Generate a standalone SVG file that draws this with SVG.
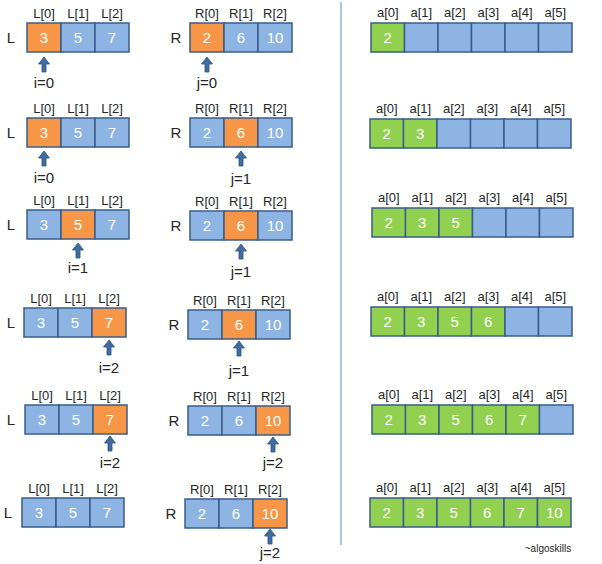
<svg xmlns="http://www.w3.org/2000/svg" width="602" height="564" viewBox="0 0 602 564">
<style>
text{font-family:"Liberation Sans",Arial,sans-serif;text-anchor:middle}
.b{fill:#8EB4E3;stroke:#385D8A;stroke-width:1.5}
.o{fill:#F79646;stroke:#385D8A;stroke-width:1.5}
.g{fill:#92D050;stroke:#385D8A;stroke-width:1.5}
.v{fill:#ffffff;font-size:15px}
.ix{fill:#262626;font-size:13px}
.nm{fill:#262626;font-size:15px}
.pt{fill:#262626;font-size:15px}
.arr{fill:#3F6DA0;stroke:#2C5482;stroke-width:0.8}
</style>
<defs>
<path id="arrow" d="M0,0 L5.5,7 L2,7 L2,15 L-2,15 L-2,7 L-5.5,7 Z"/>
</defs>
<rect width="602" height="564" fill="#ffffff"/>
<line x1="341" y1="2" x2="341" y2="545" stroke="#A9C5E8" stroke-width="2"/>

<!-- Row 1 -->
<g id="r1-L" transform="translate(27,23)">
<text class="nm" x="-16" y="20">L</text>
<rect class="o" x="0" y="0" width="34" height="29"/><rect class="b" x="34" y="0" width="34" height="29"/><rect class="b" x="68" y="0" width="34" height="29"/>
<text class="v" x="17" y="20">3</text><text class="v" x="51" y="20">5</text><text class="v" x="85" y="20">7</text>
<text class="ix" x="17" y="-5">L[0]</text><text class="ix" x="51" y="-5">L[1]</text><text class="ix" x="85" y="-5">L[2]</text>
</g>
<g id="r1-R" transform="translate(190,23)">
<text class="nm" x="-14" y="20">R</text>
<rect class="o" x="0" y="0" width="34" height="29"/><rect class="b" x="34" y="0" width="34" height="29"/><rect class="b" x="68" y="0" width="34" height="29"/>
<text class="v" x="17" y="20">2</text><text class="v" x="51" y="20">6</text><text class="v" x="85" y="20">10</text>
<text class="ix" x="17" y="-5">R[0]</text><text class="ix" x="51" y="-5">R[1]</text><text class="ix" x="85" y="-5">R[2]</text>
</g>
<g id="r1-a" transform="translate(371,23)">
<rect class="g" x="0" y="0" width="33.5" height="29"/><rect class="b" x="33.5" y="0" width="33.5" height="29"/><rect class="b" x="67" y="0" width="33.5" height="29"/><rect class="b" x="100.5" y="0" width="33.5" height="29"/><rect class="b" x="134" y="0" width="33.5" height="29"/><rect class="b" x="167.5" y="0" width="33.5" height="29"/>
<text class="v" x="16.75" y="20">2</text>
<text class="ix" x="16.75" y="-6">a[0]</text><text class="ix" x="50.25" y="-6">a[1]</text><text class="ix" x="83.75" y="-6">a[2]</text><text class="ix" x="117.25" y="-6">a[3]</text><text class="ix" x="150.75" y="-6">a[4]</text><text class="ix" x="184.25" y="-6">a[5]</text>
</g>

<!-- Row 2 -->
<g id="r2-L" transform="translate(27,118)">
<text class="nm" x="-16" y="20">L</text>
<rect class="o" x="0" y="0" width="34" height="29"/><rect class="b" x="34" y="0" width="34" height="29"/><rect class="b" x="68" y="0" width="34" height="29"/>
<text class="v" x="17" y="20">3</text><text class="v" x="51" y="20">5</text><text class="v" x="85" y="20">7</text>
<text class="ix" x="17" y="-5">L[0]</text><text class="ix" x="51" y="-5">L[1]</text><text class="ix" x="85" y="-5">L[2]</text>
</g>
<g id="r2-R" transform="translate(190,118)">
<text class="nm" x="-14" y="20">R</text>
<rect class="b" x="0" y="0" width="34" height="29"/><rect class="o" x="34" y="0" width="34" height="29"/><rect class="b" x="68" y="0" width="34" height="29"/>
<text class="v" x="17" y="20">2</text><text class="v" x="51" y="20">6</text><text class="v" x="85" y="20">10</text>
<text class="ix" x="17" y="-5">R[0]</text><text class="ix" x="51" y="-5">R[1]</text><text class="ix" x="85" y="-5">R[2]</text>
</g>
<g id="r2-a" transform="translate(370,119)">
<rect class="g" x="0" y="0" width="33.5" height="29"/><rect class="g" x="33.5" y="0" width="33.5" height="29"/><rect class="b" x="67" y="0" width="33.5" height="29"/><rect class="b" x="100.5" y="0" width="33.5" height="29"/><rect class="b" x="134" y="0" width="33.5" height="29"/><rect class="b" x="167.5" y="0" width="33.5" height="29"/>
<text class="v" x="16.75" y="20">2</text><text class="v" x="50.25" y="20">3</text>
<text class="ix" x="16.75" y="-6">a[0]</text><text class="ix" x="50.25" y="-6">a[1]</text><text class="ix" x="83.75" y="-6">a[2]</text><text class="ix" x="117.25" y="-6">a[3]</text><text class="ix" x="150.75" y="-6">a[4]</text><text class="ix" x="184.25" y="-6">a[5]</text>
</g>

<!-- Row 3 -->
<g id="r3-L" transform="translate(27,210)">
<text class="nm" x="-16" y="20">L</text>
<rect class="b" x="0" y="0" width="34" height="29"/><rect class="o" x="34" y="0" width="34" height="29"/><rect class="b" x="68" y="0" width="34" height="29"/>
<text class="v" x="17" y="20">3</text><text class="v" x="51" y="20">5</text><text class="v" x="85" y="20">7</text>
<text class="ix" x="17" y="-5">L[0]</text><text class="ix" x="51" y="-5">L[1]</text><text class="ix" x="85" y="-5">L[2]</text>
</g>
<g id="r3-R" transform="translate(190,211)">
<text class="nm" x="-14" y="20">R</text>
<rect class="b" x="0" y="0" width="34" height="29"/><rect class="o" x="34" y="0" width="34" height="29"/><rect class="b" x="68" y="0" width="34" height="29"/>
<text class="v" x="17" y="20">2</text><text class="v" x="51" y="20">6</text><text class="v" x="85" y="20">10</text>
<text class="ix" x="17" y="-5">R[0]</text><text class="ix" x="51" y="-5">R[1]</text><text class="ix" x="85" y="-5">R[2]</text>
</g>
<g id="r3-a" transform="translate(372,208)">
<rect class="g" x="0" y="0" width="33.5" height="29"/><rect class="g" x="33.5" y="0" width="33.5" height="29"/><rect class="g" x="67" y="0" width="33.5" height="29"/><rect class="b" x="100.5" y="0" width="33.5" height="29"/><rect class="b" x="134" y="0" width="33.5" height="29"/><rect class="b" x="167.5" y="0" width="33.5" height="29"/>
<text class="v" x="16.75" y="20">2</text><text class="v" x="50.25" y="20">3</text><text class="v" x="83.75" y="20">5</text>
<text class="ix" x="16.75" y="-6">a[0]</text><text class="ix" x="50.25" y="-6">a[1]</text><text class="ix" x="83.75" y="-6">a[2]</text><text class="ix" x="117.25" y="-6">a[3]</text><text class="ix" x="150.75" y="-6">a[4]</text><text class="ix" x="184.25" y="-6">a[5]</text>
</g>

<!-- Row 4 -->
<g id="r4-L" transform="translate(24,308)">
<text class="nm" x="-13" y="20">L</text>
<rect class="b" x="0" y="0" width="34" height="29"/><rect class="b" x="34" y="0" width="34" height="29"/><rect class="o" x="68" y="0" width="34" height="29"/>
<text class="v" x="17" y="20">3</text><text class="v" x="51" y="20">5</text><text class="v" x="85" y="20">7</text>
<text class="ix" x="17" y="-5">L[0]</text><text class="ix" x="51" y="-5">L[1]</text><text class="ix" x="85" y="-5">L[2]</text>
</g>
<g id="r4-R" transform="translate(188,310)">
<text class="nm" x="-14" y="20">R</text>
<rect class="b" x="0" y="0" width="34" height="29"/><rect class="o" x="34" y="0" width="34" height="29"/><rect class="b" x="68" y="0" width="34" height="29"/>
<text class="v" x="17" y="20">2</text><text class="v" x="51" y="20">6</text><text class="v" x="85" y="20">10</text>
<text class="ix" x="17" y="-5">R[0]</text><text class="ix" x="51" y="-5">R[1]</text><text class="ix" x="85" y="-5">R[2]</text>
</g>
<g id="r4-a" transform="translate(371,307)">
<rect class="g" x="0" y="0" width="33.5" height="29"/><rect class="g" x="33.5" y="0" width="33.5" height="29"/><rect class="g" x="67" y="0" width="33.5" height="29"/><rect class="g" x="100.5" y="0" width="33.5" height="29"/><rect class="b" x="134" y="0" width="33.5" height="29"/><rect class="b" x="167.5" y="0" width="33.5" height="29"/>
<text class="v" x="16.75" y="20">2</text><text class="v" x="50.25" y="20">3</text><text class="v" x="83.75" y="20">5</text><text class="v" x="117.25" y="20">6</text>
<text class="ix" x="16.75" y="-6">a[0]</text><text class="ix" x="50.25" y="-6">a[1]</text><text class="ix" x="83.75" y="-6">a[2]</text><text class="ix" x="117.25" y="-6">a[3]</text><text class="ix" x="150.75" y="-6">a[4]</text><text class="ix" x="184.25" y="-6">a[5]</text>
</g>

<!-- Row 5 -->
<g id="r5-L" transform="translate(25,405)">
<text class="nm" x="-14" y="20">L</text>
<rect class="b" x="0" y="0" width="34" height="29"/><rect class="b" x="34" y="0" width="34" height="29"/><rect class="o" x="68" y="0" width="34" height="29"/>
<text class="v" x="17" y="20">3</text><text class="v" x="51" y="20">5</text><text class="v" x="85" y="20">7</text>
<text class="ix" x="17" y="-5">L[0]</text><text class="ix" x="51" y="-5">L[1]</text><text class="ix" x="85" y="-5">L[2]</text>
</g>
<g id="r5-R" transform="translate(188,406)">
<text class="nm" x="-14" y="20">R</text>
<rect class="b" x="0" y="0" width="34" height="29"/><rect class="b" x="34" y="0" width="34" height="29"/><rect class="o" x="68" y="0" width="34" height="29"/>
<text class="v" x="17" y="20">2</text><text class="v" x="51" y="20">6</text><text class="v" x="85" y="20">10</text>
<text class="ix" x="17" y="-5">R[0]</text><text class="ix" x="51" y="-5">R[1]</text><text class="ix" x="85" y="-5">R[2]</text>
</g>
<g id="r5-a" transform="translate(372,405)">
<rect class="g" x="0" y="0" width="33.5" height="29"/><rect class="g" x="33.5" y="0" width="33.5" height="29"/><rect class="g" x="67" y="0" width="33.5" height="29"/><rect class="g" x="100.5" y="0" width="33.5" height="29"/><rect class="g" x="134" y="0" width="33.5" height="29"/><rect class="b" x="167.5" y="0" width="33.5" height="29"/>
<text class="v" x="16.75" y="20">2</text><text class="v" x="50.25" y="20">3</text><text class="v" x="83.75" y="20">5</text><text class="v" x="117.25" y="20">6</text><text class="v" x="150.75" y="20">7</text>
<text class="ix" x="16.75" y="-6">a[0]</text><text class="ix" x="50.25" y="-6">a[1]</text><text class="ix" x="83.75" y="-6">a[2]</text><text class="ix" x="117.25" y="-6">a[3]</text><text class="ix" x="150.75" y="-6">a[4]</text><text class="ix" x="184.25" y="-6">a[5]</text>
</g>

<!-- Row 6 -->
<g id="r6-L" transform="translate(22,498)">
<text class="nm" x="-14" y="20">L</text>
<rect class="b" x="0" y="0" width="34" height="29"/><rect class="b" x="34" y="0" width="34" height="29"/><rect class="b" x="68" y="0" width="34" height="29"/>
<text class="v" x="17" y="20">3</text><text class="v" x="51" y="20">5</text><text class="v" x="85" y="20">7</text>
<text class="ix" x="17" y="-5">L[0]</text><text class="ix" x="51" y="-5">L[1]</text><text class="ix" x="85" y="-5">L[2]</text>
</g>
<g id="r6-R" transform="translate(185,499)">
<text class="nm" x="-14" y="20">R</text>
<rect class="b" x="0" y="0" width="34" height="29"/><rect class="b" x="34" y="0" width="34" height="29"/><rect class="o" x="68" y="0" width="34" height="29"/>
<text class="v" x="17" y="20">2</text><text class="v" x="51" y="20">6</text><text class="v" x="85" y="20">10</text>
<text class="ix" x="17" y="-5">R[0]</text><text class="ix" x="51" y="-5">R[1]</text><text class="ix" x="85" y="-5">R[2]</text>
</g>
<g id="r6-a" transform="translate(370,498)">
<rect class="g" x="0" y="0" width="33.5" height="29"/><rect class="g" x="33.5" y="0" width="33.5" height="29"/><rect class="g" x="67" y="0" width="33.5" height="29"/><rect class="g" x="100.5" y="0" width="33.5" height="29"/><rect class="g" x="134" y="0" width="33.5" height="29"/><rect class="g" x="167.5" y="0" width="33.5" height="29"/>
<text class="v" x="16.75" y="20">2</text><text class="v" x="50.25" y="20">3</text><text class="v" x="83.75" y="20">5</text><text class="v" x="117.25" y="20">6</text><text class="v" x="150.75" y="20">7</text><text class="v" x="184.25" y="20">10</text>
<text class="ix" x="16.75" y="-6">a[0]</text><text class="ix" x="50.25" y="-6">a[1]</text><text class="ix" x="83.75" y="-6">a[2]</text><text class="ix" x="117.25" y="-6">a[3]</text><text class="ix" x="150.75" y="-6">a[4]</text><text class="ix" x="184.25" y="-6">a[5]</text>
</g>

<!-- Pointers -->
<g id="pointers" class="arr">
<use href="#arrow" x="44" y="57"/>
<use href="#arrow" x="207" y="57"/>
<use href="#arrow" x="44" y="151"/>
<use href="#arrow" x="241" y="151"/>
<use href="#arrow" x="78" y="243"/>
<use href="#arrow" x="241" y="244"/>
<use href="#arrow" x="109" y="340"/>
<use href="#arrow" x="239" y="341"/>
<use href="#arrow" x="110" y="436"/>
<use href="#arrow" x="273" y="437"/>
<use href="#arrow" x="270" y="529"/>
</g>
<g id="pointer-labels">
<text class="pt" x="44" y="88">i=0</text>
<text class="pt" x="207" y="88">j=0</text>
<text class="pt" x="44" y="183">i=0</text>
<text class="pt" x="241" y="184">j=1</text>
<text class="pt" x="78" y="273">i=1</text>
<text class="pt" x="241" y="277">j=1</text>
<text class="pt" x="109" y="373">i=2</text>
<text class="pt" x="239" y="376">j=1</text>
<text class="pt" x="110" y="468">i=2</text>
<text class="pt" x="273" y="468">j=2</text>
<text class="pt" x="270" y="558">j=2</text>
</g>
<text x="548" y="552" style="font-size:10px;fill:#262626">~algoskills</text>
</svg>
